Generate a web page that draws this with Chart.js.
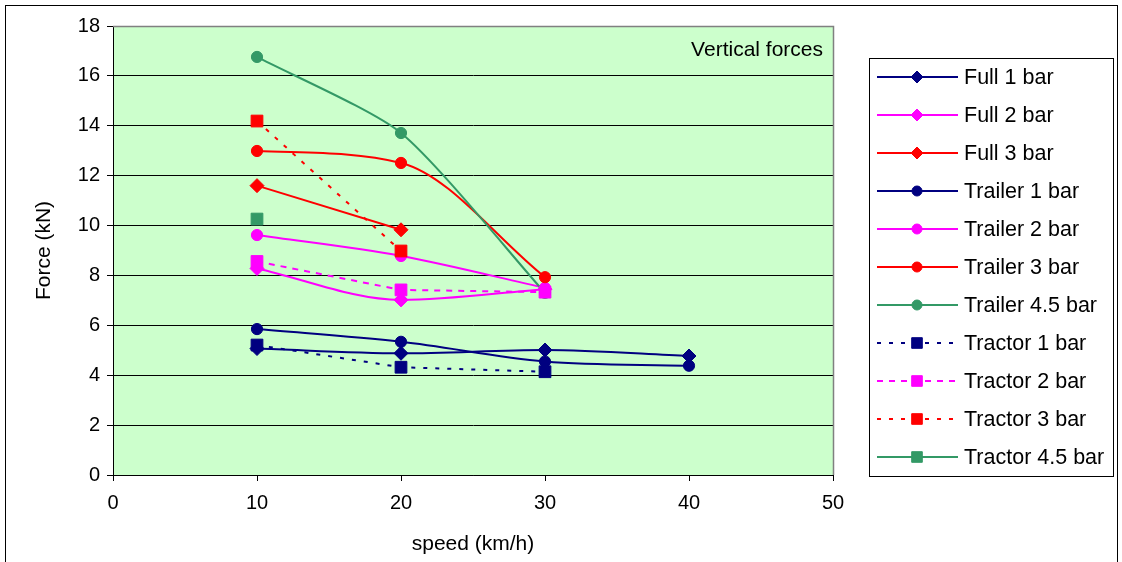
<!DOCTYPE html>
<html>
<head>
<meta charset="utf-8">
<script src="https://cdn.jsdelivr.net/npm/chart.js@4/dist/chart.umd.min.js"></script>
<style>
  html, body { margin: 0; padding: 0; background: #ffffff; }
  #wrap { width: 1122px; height: 562px; }
</style>
</head>
<body>
<div id="wrap"><canvas id="c" width="1122" height="562"></canvas></div>
<script>
// ---- data ----
const speeds = [10, 20, 30, 40];
const full1 = [5.07, 4.88, 5.01, 4.77];
const full2 = [8.28, 7.02, 7.45];
const full3 = [11.6, 9.83];
const trailer1 = [5.85, 5.34, 4.55, 4.38];
const trailer2 = [9.62, 8.78, 7.5];
const trailer3 = [12.99, 12.51, 7.93];
const trailer45 = [16.76, 13.71, 7.3];
const tractor1 = [5.21, 4.32, 4.14];
const tractor2 = [8.56, 7.42, 7.33];
const tractor3 = [14.19, 8.98];
const tractor45 = [10.26];
const xTicks = [0, 10, 20, 30, 40, 50];
const yTicks = [0, 2, 4, 6, 8, 10, 12, 14, 16, 18];
const seriesNames = ['Full 1 bar', 'Full 2 bar', 'Full 3 bar', 'Trailer 1 bar', 'Trailer 2 bar',
  'Trailer 3 bar', 'Trailer 4.5 bar', 'Tractor 1 bar', 'Tractor 2 bar', 'Tractor 3 bar', 'Tractor 4.5 bar'];
const seriesValues = [full1, full2, full3, trailer1, trailer2, trailer3, trailer45, tractor1, tractor2, tractor3, tractor45];
const annotationText = 'Vertical forces';

// ---- styles ----
const NAVY = '#000080', MAG = '#FF00FF', RED = '#FF0000', GREEN = '#339966';
const styles = [
  { color: NAVY, shape: 'rectRot', dash: [], mode: 'monotone', tension: 0 },
  { color: MAG, shape: 'rectRot', dash: [], mode: 'monotone', tension: 0 },
  { color: RED, shape: 'rectRot', dash: [], mode: 'default', tension: 0 },
  { color: NAVY, shape: 'circle', dash: [], mode: 'monotone', tension: 0 },
  { color: MAG, shape: 'circle', dash: [], mode: 'monotone', tension: 0 },
  { color: RED, shape: 'circle', dash: [], mode: 'monotone', tension: 0 },
  { color: GREEN, shape: 'circle', dash: [], mode: 'default', tension: 0.22 },
  { color: NAVY, shape: 'rect', dash: [4, 8], mode: 'default', tension: 0 },
  { color: MAG, shape: 'rect', dash: [6, 6], mode: 'default', tension: 0 },
  { color: RED, shape: 'rect', dash: [4, 8], mode: 'default', tension: 0 },
  { color: GREEN, shape: 'rect', dash: [], mode: 'default', tension: 0 }
];
const radiusFor = { circle: 5.6, rectRot: 7, rect: 8.3 };

const FONT = "'Liberation Sans', Arial, sans-serif";

const datasets = seriesNames.map((name, i) => {
  const st = styles[i];
  return {
    label: name,
    data: seriesValues[i].map((v, j) => ({ x: speeds[j], y: v })),
    borderColor: st.color,
    backgroundColor: st.color,
    borderWidth: 2,
    borderDash: st.dash,
    pointStyle: st.shape,
    pointRadius: radiusFor[st.shape],
    pointHoverRadius: radiusFor[st.shape],
    pointBorderWidth: 1,
    pointBorderColor: st.color,
    pointBackgroundColor: st.color,
    cubicInterpolationMode: st.mode,
    tension: st.tension,
    order: seriesNames.length - i
  };
});

function drawMarker(ctx, shape, x, y, r, color) {
  ctx.save();
  ctx.fillStyle = color;
  ctx.strokeStyle = color;
  ctx.lineWidth = 1;
  ctx.setLineDash([]);
  ctx.beginPath();
  if (shape === 'circle') {
    ctx.arc(x, y, r, 0, Math.PI * 2);
  } else if (shape === 'rect') {
    const s = Math.SQRT1_2 * r;
    ctx.rect(x - s, y - s, 2 * s, 2 * s);
  } else {
    ctx.moveTo(x, y - r); ctx.lineTo(x + r, y); ctx.lineTo(x, y + r); ctx.lineTo(x - r, y); ctx.closePath();
  }
  ctx.fill();
  ctx.stroke();
  ctx.restore();
}

const decorPlugin = {
  id: 'decor',
  beforeDraw(chart) {
    const { ctx, chartArea: a } = chart;
    ctx.save();
    ctx.fillStyle = '#ffffff';
    ctx.fillRect(0, 0, chart.width, chart.height);
    ctx.fillStyle = '#CCFFCC';
    ctx.fillRect(a.left, a.top, a.right - a.left, a.bottom - a.top);
    // outer frame
    ctx.strokeStyle = '#000000';
    ctx.lineWidth = 1;
    ctx.strokeRect(5.5, 5.5, 1112, 620);
    ctx.restore();
  },
  beforeDatasetsDraw(chart) {
    const { ctx, chartArea: a } = chart;
    ctx.save();
    ctx.strokeStyle = '#808080';
    ctx.lineWidth = 1.5;
    ctx.beginPath();
    ctx.moveTo(a.left, a.top + 0.5);
    ctx.lineTo(a.right + 0.5, a.top + 0.5);
    ctx.lineTo(a.right + 0.5, a.bottom);
    ctx.stroke();
    // annotation text
    ctx.fillStyle = '#000000';
    ctx.font = '21px ' + FONT;
    ctx.textAlign = 'right';
    ctx.textBaseline = 'middle';
    ctx.fillText(annotationText, a.right - 10, 50);
    ctx.restore();
  },
  afterDraw(chart) {
    const { ctx } = chart;
    ctx.save();
    // legend box
    ctx.strokeStyle = '#000000';
    ctx.lineWidth = 1;
    ctx.fillStyle = '#ffffff';
    ctx.fillRect(869, 58, 244, 418);
    ctx.strokeRect(869.5, 58.5, 244, 418);
    chart.data.datasets.forEach((ds, i) => {
      const y = 77 + 38 * i;
      ctx.save();
      ctx.strokeStyle = ds.borderColor;
      ctx.lineWidth = 2;
      ctx.setLineDash(ds.borderDash || []);
      ctx.beginPath();
      ctx.moveTo(877, y);
      ctx.lineTo(958, y);
      ctx.stroke();
      ctx.restore();
      const sh = ds.pointStyle;
      const r = sh === 'circle' ? 5 : (sh === 'rect' ? 7.5 : 6);
      drawMarker(ctx, sh, 917, y, r, ds.borderColor);
      ctx.fillStyle = '#000000';
      ctx.font = '21.5px ' + FONT;
      ctx.textAlign = 'left';
      ctx.textBaseline = 'middle';
      ctx.fillText(ds.label, 964, y + 1);
    });
    ctx.restore();
  }
};

new Chart(document.getElementById('c'), {
  type: 'line',
  data: { datasets },
  plugins: [decorPlugin],
  options: {
    responsive: false,
    animation: false,
    events: [],
    layout: { padding: { left: 0, top: 26, right: 289, bottom: 0 } },
    plugins: { legend: { display: false }, tooltip: { enabled: false } },
    scales: {
      x: {
        type: 'linear',
        min: 0, max: 50,
        afterFit(scale) { scale.height = 87; },
        afterBuildTicks(scale) { scale.ticks = xTicks.map(v => ({ value: v })); },
        grid: { drawOnChartArea: false, drawTicks: true, tickLength: 6, tickColor: '#000000', color: '#000000' },
        border: { display: true, color: '#000000', width: 1 },
        ticks: { color: '#000000', font: { family: FONT, size: 20 }, padding: 10, maxRotation: 0 },
        title: { display: true, text: 'speed (km/h)', color: '#000000', font: { family: FONT, size: 21 }, padding: { top: 0, bottom: 5 } }
      },
      y: {
        type: 'linear',
        min: 0, max: 18,
        afterFit(scale) { scale.width = 113; },
        afterBuildTicks(scale) { scale.ticks = yTicks.map(v => ({ value: v })); },
        grid: { drawOnChartArea: true, drawTicks: true, tickLength: 6, tickColor: '#000000', color: '#000000', lineWidth: 1 },
        border: { display: true, color: '#000000', width: 1 },
        ticks: { color: '#000000', font: { family: FONT, size: 20 }, padding: 7 },
        title: { display: true, text: 'Force (kN)', color: '#000000', font: { family: FONT, size: 21 }, padding: { top: 32, bottom: 0 } }
      }
    }
  }
});
</script>
</body>
</html>
